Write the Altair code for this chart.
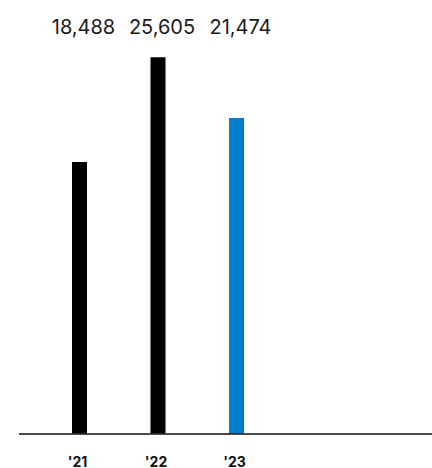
import altair as alt
import pandas as pd

years = ["'21", "'22", "'23"]
values = [18488, 25605, 21474]
colors = ["#000000", "#000000", "#0080CC"]
labels = ["18,488", "25,605", "21,474"]

df = pd.DataFrame({"year": years, "value": values, "color": colors, "label": labels})

W, H = 413, 434

xenc = alt.X("year:N", sort=years,
             scale=alt.Scale(range=[21.25, 256.75], paddingInner=0, paddingOuter=0),
             axis=alt.Axis(title=None, domain=False, ticks=False, labelAngle=0,
                           labelFont="Inter", labelFontSize=14, labelFontWeight="bold",
                           labelColor="#111111", labelPadding=21, labelOffset=-2))
yenc = alt.Y("value:Q", scale=alt.Scale(domain=[0, 29500], nice=False, zero=True), axis=None)

bars = alt.Chart(df).mark_bar(size=15).encode(
    x=xenc, y=yenc, color=alt.Color("color:N", scale=None)
)

text = alt.Chart(df).mark_text(font="Inter", fontSize=20, baseline="middle", align="center",
                               dx=4, color="#1a1a1a").encode(
    x=alt.X("year:N", sort=years), y=alt.value(28), text="label:N"
)

base = alt.Chart(df).mark_rule(color="#333333", strokeWidth=1.2).encode(
    x=alt.value(0), x2=alt.value(W), y=alt.value(H)
)

chart = alt.layer(bars, base, text).properties(
    width=W, height=H, padding={"left": 19, "top": 0, "right": 0, "bottom": 34},
    autosize=alt.AutoSizeParams(type="none")
).configure_view(stroke=None)

chart.save("out.html", embed_options={"renderer": "svg", "actions": False})
